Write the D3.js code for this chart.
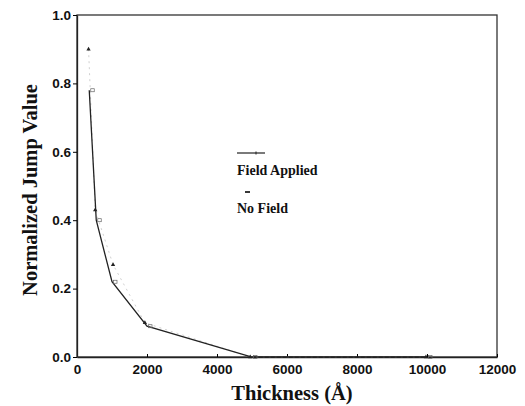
<!DOCTYPE html>
<html>
<head>
<meta charset="utf-8">
<script src="https://cdn.jsdelivr.net/npm/d3@7"></script>
<style>
  body { margin: 0; background: #fff; }
  .tick text { font-family: "Liberation Sans", Arial, sans-serif; font-weight: bold; font-size: 13.5px; fill: #111; }
</style>
</head>
<body>
<div id="chart"></div>
<script>
// data
const thickness = [350, 550, 1000, 2000, 5000, 10000];
const fieldApplied = [0.78, 0.40, 0.22, 0.09, 0.0, 0.0];
const noFieldThickness = [330, 520, 1030, 1940, 4950, 9970];
const noField = [0.90, 0.43, 0.27, 0.10, 0.0, 0.0];
const xTicks = [0, 2000, 4000, 6000, 8000, 10000, 12000];
const yTicks = [0.0, 0.2, 0.4, 0.6, 0.8, 1.0];

var margin = { top: 15, right: 28, bottom: 49, left: 77 },
  width = 525 - margin.left - margin.right,
  height = 406 - margin.top - margin.bottom;

var svg = d3
  .select("#chart")
  .append("svg")
  .attr("width", 525)
  .attr("height", 406)
  .append("g")
  .attr("transform", "translate(" + margin.left + "," + margin.top + ")");

var x = d3.scaleLinear().domain([0, 12000]).range([0, width]);
var y = d3.scaleLinear().domain([0, 1]).range([height, 0]);

// frame
svg
  .append("rect")
  .attr("width", width)
  .attr("height", height)
  .attr("fill", "none")
  .attr("stroke", "#333")
  .attr("stroke-width", 1.3);

var xAxis = svg
  .append("g")
  .attr("transform", "translate(0," + height + ")")
  .call(d3.axisBottom(x).tickValues(xTicks).tickFormat(d3.format("d")).tickSizeInner(-3).tickSizeOuter(0).tickPadding(7));
xAxis.select(".domain").attr("stroke", "#222").attr("stroke-width", 1.3);

var yAxis = svg
  .append("g")
  .call(d3.axisLeft(y).tickValues(yTicks).tickFormat(d3.format(".1f")).tickSizeInner(4).tickSizeOuter(0).tickPadding(2));
yAxis.select(".domain").attr("stroke", "#222").attr("stroke-width", 1.3);

var fieldData = thickness.map((t, i) => ({ t: t, v: fieldApplied[i] }));
var noFieldData = noFieldThickness.map((t, i) => ({ t: t, v: noField[i] }));

var line = d3
  .line()
  .x((d) => x(d.t))
  .y((d) => y(d.v));

// no field: faint dashed
svg
  .append("path")
  .datum(noFieldData)
  .attr("fill", "none")
  .attr("stroke", "#bbb")
  .attr("stroke-width", 0.7)
  .attr("stroke-dasharray", "2,4")
  .attr("d", line);

// field applied: solid
svg
  .append("path")
  .datum(fieldData)
  .attr("fill", "none")
  .attr("stroke", "#222")
  .attr("stroke-width", 1.3)
  .attr("d", line);

svg
  .selectAll(".nf")
  .data(noFieldData)
  .enter()
  .append("path")
  .attr("class", "nf")
  .attr("transform", (d) => "translate(" + x(d.t) + "," + y(d.v) + ")")
  .attr("d", d3.symbol().type(d3.symbolTriangle).size(8))
  .attr("fill", "#222");

svg
  .selectAll(".fa")
  .data(fieldData)
  .enter()
  .append("rect")
  .attr("class", "fa")
  .attr("x", (d) => x(d.t) + 1.5)
  .attr("y", (d) => y(d.v) - 1.5)
  .attr("width", 3.5)
  .attr("height", 3)
  .attr("fill", "none")
  .attr("stroke", "#666")
  .attr("stroke-width", 0.7);

// legend
var lg = svg.append("g").attr("transform", "translate(" + (237 - margin.left) + "," + (153 - margin.top) + ")");
lg.append("line").attr("x1", 0).attr("x2", 28).attr("y1", 0).attr("y2", 0).attr("stroke", "#222").attr("stroke-width", 1.2);
lg.append("line").attr("x1", 19).attr("x2", 19).attr("y1", -1.5).attr("y2", 1.5).attr("stroke", "#222");
lg.append("text")
  .attr("x", 0)
  .attr("y", 22)
  .style("font-family", "'Liberation Serif', 'Times New Roman', serif")
  .style("font-weight", "bold")
  .style("font-size", "14px")
  .attr("fill", "#111")
  .text("Field Applied");
lg.append("line").attr("x1", 8).attr("x2", 13).attr("y1", 39).attr("y2", 39).attr("stroke", "#222").attr("stroke-width", 1.8);
lg.append("text")
  .attr("x", 0)
  .attr("y", 60)
  .style("font-family", "'Liberation Serif', 'Times New Roman', serif")
  .style("font-weight", "bold")
  .style("font-size", "14px")
  .attr("fill", "#111")
  .text("No Field");

// axis titles
svg
  .append("text")
  .attr("transform", "rotate(-90)")
  .attr("x", -height / 2 - 4)
  .attr("y", -margin.left + 37)
  .attr("text-anchor", "middle")
  .style("font-family", "'Liberation Serif', 'Times New Roman', serif")
  .style("font-weight", "bold")
  .style("font-size", "20.5px")
  .attr("fill", "#111")
  .text("Normalized Jump Value");

svg
  .append("text")
  .attr("x", width / 2 + 5)
  .attr("y", height + 43)
  .attr("text-anchor", "middle")
  .style("font-family", "'Liberation Serif', 'Times New Roman', serif")
  .style("font-weight", "bold")
  .style("font-size", "20.5px")
  .attr("fill", "#111")
  .text("Thickness (Å)");
</script>
</body>
</html>
